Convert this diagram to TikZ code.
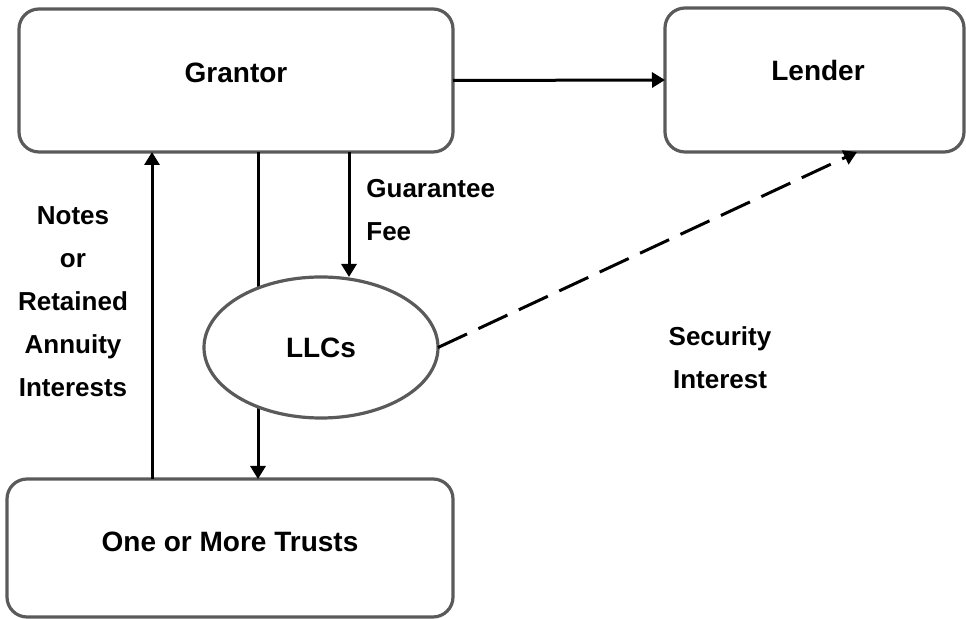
\documentclass[tikz,border=0pt]{standalone}
\usepackage{fontspec}
\setmainfont{Liberation Sans}
\usetikzlibrary{arrows.meta,shapes.geometric}
\definecolor{boxgray}{RGB}{90,90,90}
\begin{document}
\begin{tikzpicture}[x=0.5pt,y=-0.5pt,
  box/.style={draw=boxgray, line width=1.6pt, rounded corners=10pt, fill=white, inner sep=0pt, outer sep=0pt},
  arr/.style={line width=1.5pt, -{Triangle[width=7.5pt,length=6.5pt]}},
  nodefont/.style={font=\fontsize{14}{17}\selectfont\bfseries},
  lab/.style={font=\fontsize{13}{21.5}\selectfont\bfseries, inner sep=0pt}]
\useasboundingbox (0,0) rectangle (966,619);
\node[box, minimum width=217pt, minimum height=71.5pt,
      label={[nodefont,yshift=3.75pt]center:Grantor}] (grantor) at (236,80.5) {};
\node[box, minimum width=149.5pt, minimum height=72pt,
      label={[nodefont,xshift=1.75pt,yshift=4.5pt]center:Lender}] (lender) at (814.5,80) {};
\node[box, minimum width=223pt, minimum height=69pt,
      label={[nodefont,yshift=3pt]center:One or More Trusts}] (trusts) at (230,548) {};
\coordinate (xa) at (152,0);
\coordinate (xb) at (258,0);
\coordinate (xg) at (349,0);
\coordinate (dtip) at (857,152);
\draw[arr] (trusts.north -| xa) -- (grantor.south -| xa);
\draw[arr] (grantor.south -| xb) -- (trusts.north -| xb);
\node[ellipse, draw=boxgray, line width=1.6pt, fill=white, minimum width=117pt,
      minimum height=70.5pt, inner sep=0pt, outer sep=0pt, nodefont] (llc) at (321,347.5) {LLCs};
\draw[arr] (grantor.south -| xg) -- (llc.north -| xg);
\draw[arr, dash pattern=on 16pt off 6.3pt] (llc.east) -- (dtip);
\draw[arr] (grantor.east) -- (lender.west);
\node[lab, align=center] (notes) at (73,302) {Notes\\or\\Retained\\Annuity\\Interests};
\node[lab, align=left, anchor=west] (gfee) at (366,210) {Guarantee\\Fee};
\node[lab, align=center] (sec) at (720,358) {Security\\Interest};
\end{tikzpicture}
\end{document}
